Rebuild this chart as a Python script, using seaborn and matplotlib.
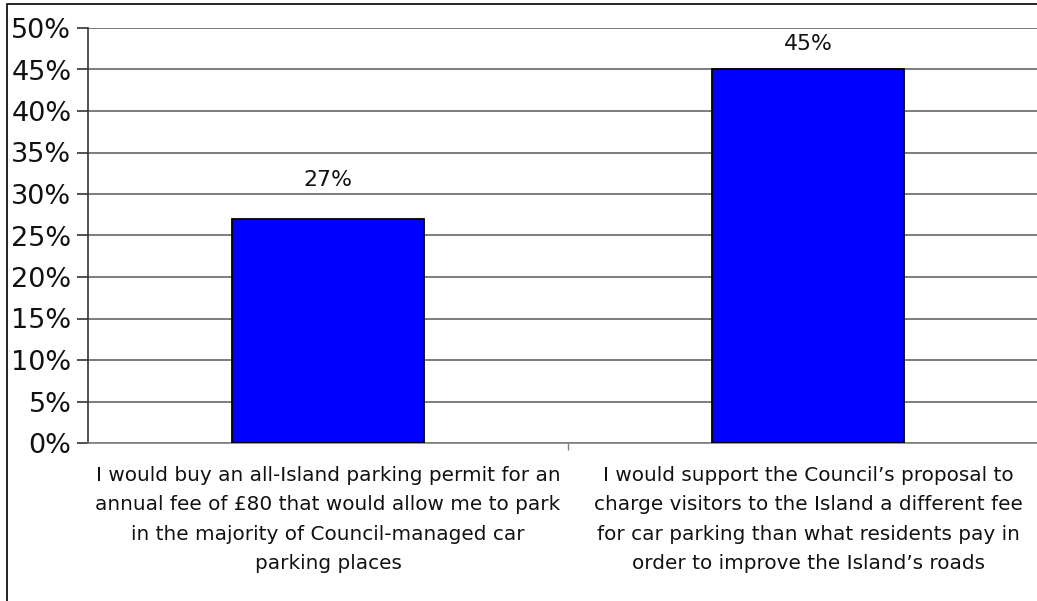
import matplotlib
matplotlib.use("Agg")
import matplotlib.pyplot as plt
import seaborn as sns
import pandas as pd
from matplotlib.patches import Rectangle

categories = [
    "I would buy an all-Island parking permit for an\nannual fee of £80 that would allow me to park\nin the majority of Council-managed car\nparking places",
    "I would support the Council\u2019s proposal to\ncharge visitors to the Island a different fee\nfor car parking than what residents pay in\norder to improve the Island\u2019s roads",
]
values = [27, 45]
value_labels = ["27%", "45%"]
y_ticks = list(range(0, 51, 5))
y_tick_labels = [f"{t}%" for t in y_ticks]

df = pd.DataFrame({"category": categories, "value": values})

sns.set_theme(style="white")
plt.rcParams["font.family"] = ["DejaVu Sans"]

fig = plt.figure(figsize=(10.37, 6.01), dpi=100)
ax = fig.add_axes([88 / 1037, 1 - 443 / 601, 960 / 1037, 415 / 601])

sns.barplot(data=df, x="category", y="value", ax=ax, color="#0000FF",
            saturation=1, width=0.4, edgecolor="black", linewidth=1.3, zorder=3)

ax.set_xlim(-0.5, 1.5)
ax.set_ylim(0, 50)
ax.set_yticks(y_ticks)
ax.set_yticklabels(y_tick_labels, fontsize=19.5, color="#111111")
ax.yaxis.grid(True, color="#666666", linewidth=1.2, zorder=0)
ax.set_xlabel("")
ax.set_ylabel("")

# category boundary tick on the x axis
ax.set_xticks([0.5])
ax.set_xticklabels([""])
ax.tick_params(axis="x", direction="out", length=5, width=1, color="#808080", bottom=True)
ax.tick_params(axis="y", direction="out", length=8, width=1.2, color="#333333", left=True, pad=4)

for i, lab in enumerate(categories):
    ax.text(i, -2.8, lab, ha="center", va="top", fontsize=14.4,
            linespacing=1.68, color="#111111")

# value labels above each bar (offsets in points)
label_offsets = [39, 26]
for i, (v, lab) in enumerate(zip(values, value_labels)):
    ax.annotate(lab, xy=(i, v), xytext=(0, label_offsets[i] * 0.72),
                textcoords="offset points", ha="center", va="center",
                fontsize=15.8, color="#111111")

for side in ["top", "right"]:
    ax.spines[side].set_visible(False)
ax.spines["left"].set_color("#333333")
ax.spines["left"].set_linewidth(1.2)
ax.spines["bottom"].set_color("#808080")
ax.spines["bottom"].set_linewidth(1.2)

# outer frame along the top and left edges
fig.patches.append(Rectangle((7 / 1037, -0.1), 1.2, 1.1 - 4 / 601,
                             transform=fig.transFigure, fill=False,
                             edgecolor="black", linewidth=1.2))

fig.savefig("out.png", dpi=100)
